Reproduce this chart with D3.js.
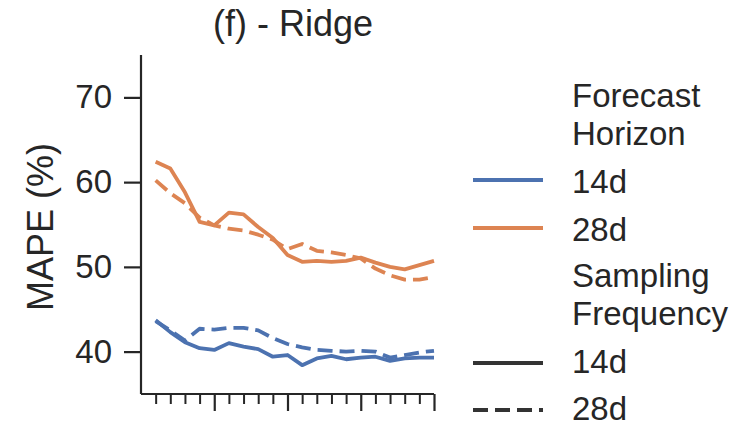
<!doctype html>
<html>
  <head>
    <meta charset="utf-8"/>
    <style>
      body { margin: 0; background: #fff; }
      text { font-family: "Liberation Sans", Arial, sans-serif; fill: #262626; }
    </style>
  </head>
  <body>
    <script src="https://cdn.jsdelivr.net/npm/d3@7/dist/d3.min.js"></script>
    <script>

      // x positions of the runs (no labels shown on the x axis)
      steps = d3.range(1, 21);

      // MAPE (%) per run
      h14_s14 = [43.7, 42.3, 41.1, 40.4, 40.2, 41.0, 40.6, 40.3, 39.4, 39.6,
                 38.4, 39.2, 39.5, 39.1, 39.3, 39.4, 38.9, 39.2, 39.3, 39.3];
      h14_s28 = [43.6, 42.5, 41.3, 42.7, 42.6, 42.8, 42.8, 42.5, 41.6, 40.9,
                 40.5, 40.2, 40.1, 40.0, 40.1, 40.0, 39.3, 39.6, 39.9, 40.1];
      h28_s14 = [62.4, 61.6, 58.8, 55.3, 54.9, 56.4, 56.2, 54.7, 53.4, 51.4,
                 50.6, 50.7, 50.6, 50.7, 51.1, 50.5, 50.0, 49.7, 50.2, 50.7];
      h28_s28 = [60.2, 58.7, 57.5, 55.8, 54.9, 54.5, 54.3, 53.8, 53.2, 52.1,
                 52.7, 51.9, 51.7, 51.4, 51.0, 49.8, 49.0, 48.5, 48.5, 48.8];

      yTicks = [40, 50, 60, 70];
      horizons = ['14d', '28d'];
      samplings = ['14d', '28d'];

      const colors = { '14d': '#4c72b0', '28d': '#dd8452' };
      const dashes = { '14d': null, '28d': '15,7' };

      const series = [
        { horizon: '14d', sampling: '14d', values: h14_s14 },
        { horizon: '14d', sampling: '28d', values: h14_s28 },
        { horizon: '28d', sampling: '14d', values: h28_s14 },
        { horizon: '28d', sampling: '28d', values: h28_s28 }
      ];

      const W = 740, H = 426;
      const svg = d3.select('body').append('svg')
            .attr('width', W)
            .attr('height', H);

      const x = d3.scaleLinear().domain([0, 20]).range([141, 434]);
      const y = d3.scaleLinear().domain([35, 75]).range([394, 55]);

      // y axis
      const yAxis = svg.append('g')
            .attr('transform', 'translate(141,0)')
            .call(d3.axisLeft(y).tickValues(yTicks).tickSize(17).tickPadding(12));
      yAxis.select('.domain').attr('stroke', '#262626').attr('stroke-width', 2.2)
            .attr('d', 'M0,' + y(75) + 'V' + y(35));
      yAxis.selectAll('.tick line').attr('stroke', '#262626').attr('stroke-width', 2.2);
      yAxis.selectAll('.tick text')
            .style('font-size', '33px')
            .style('font-family', '"Liberation Sans", Arial, sans-serif')
            .attr('fill', '#262626');

      // x axis: major ticks every 5, minor ticks in between, no labels
      const xAxis = svg.append('g')
            .attr('transform', 'translate(0,394)')
            .call(d3.axisBottom(x).tickValues([5, 10, 15, 20]).tickSize(17).tickFormat(''));
      xAxis.select('.domain').attr('stroke', '#262626').attr('stroke-width', 2.2)
            .attr('d', 'M' + x(0) + ',0H' + x(20));
      xAxis.selectAll('.tick line').attr('stroke', '#262626').attr('stroke-width', 2.2);

      svg.append('g')
            .attr('transform', 'translate(0,394)')
            .call(d3.axisBottom(x).tickValues(steps.filter(d => d % 5 !== 0)).tickSize(10).tickFormat(''))
            .call(g => g.select('.domain').remove())
            .selectAll('.tick line').attr('stroke', '#262626').attr('stroke-width', 2);

      // lines
      const line = d3.line()
            .x((d, i) => x(steps[i]))
            .y(d => y(d));

      svg.append('g')
            .selectAll('path')
            .data(series)
            .join('path')
            .attr('d', d => line(d.values))
            .attr('fill', 'none')
            .attr('stroke', d => colors[d.horizon])
            .attr('stroke-width', 3.8)
            .attr('stroke-dasharray', d => dashes[d.sampling])
            .attr('stroke-linejoin', 'round');

      // title and y label
      svg.append('text')
            .attr('x', 293)
            .attr('y', 36)
            .attr('text-anchor', 'middle')
            .style('font-size', '36px')
            .text('(f) - Ridge');

      svg.append('text')
            .attr('transform', 'translate(53,227) rotate(-90)')
            .attr('text-anchor', 'middle')
            .style('font-size', '36px')
            .text('MAPE (%)');

      // legend
      const lg = svg.append('g');
      const lx0 = 473, lx1 = 543, tx = 572;
      const fs = '33px';

      lg.append('text').attr('x', tx).attr('y', 107).style('font-size', fs).text('Forecast');
      lg.append('text').attr('x', tx).attr('y', 145).style('font-size', fs).text('Horizon');

      horizons.forEach((h, i) => {
        const ly = 180 + i * 48;
        lg.append('line')
          .attr('x1', lx0).attr('x2', lx1)
          .attr('y1', ly).attr('y2', ly)
          .attr('stroke', colors[h])
          .attr('stroke-width', 4);
        lg.append('text').attr('x', tx).attr('y', ly + 13).style('font-size', fs).text(h);
      });

      lg.append('text').attr('x', tx).attr('y', 287).style('font-size', fs).text('Sampling');
      lg.append('text').attr('x', tx).attr('y', 325).style('font-size', fs).text('Frequency');

      samplings.forEach((s, i) => {
        const ly = 363 + i * 47;
        lg.append('line')
          .attr('x1', lx0).attr('x2', lx1)
          .attr('y1', ly).attr('y2', ly)
          .attr('stroke', '#333333')
          .attr('stroke-width', 4)
          .attr('stroke-dasharray', dashes[s]);
        lg.append('text').attr('x', tx).attr('y', ly + 10).style('font-size', fs).text(s);
      });

    </script>
  </body>
</html>
